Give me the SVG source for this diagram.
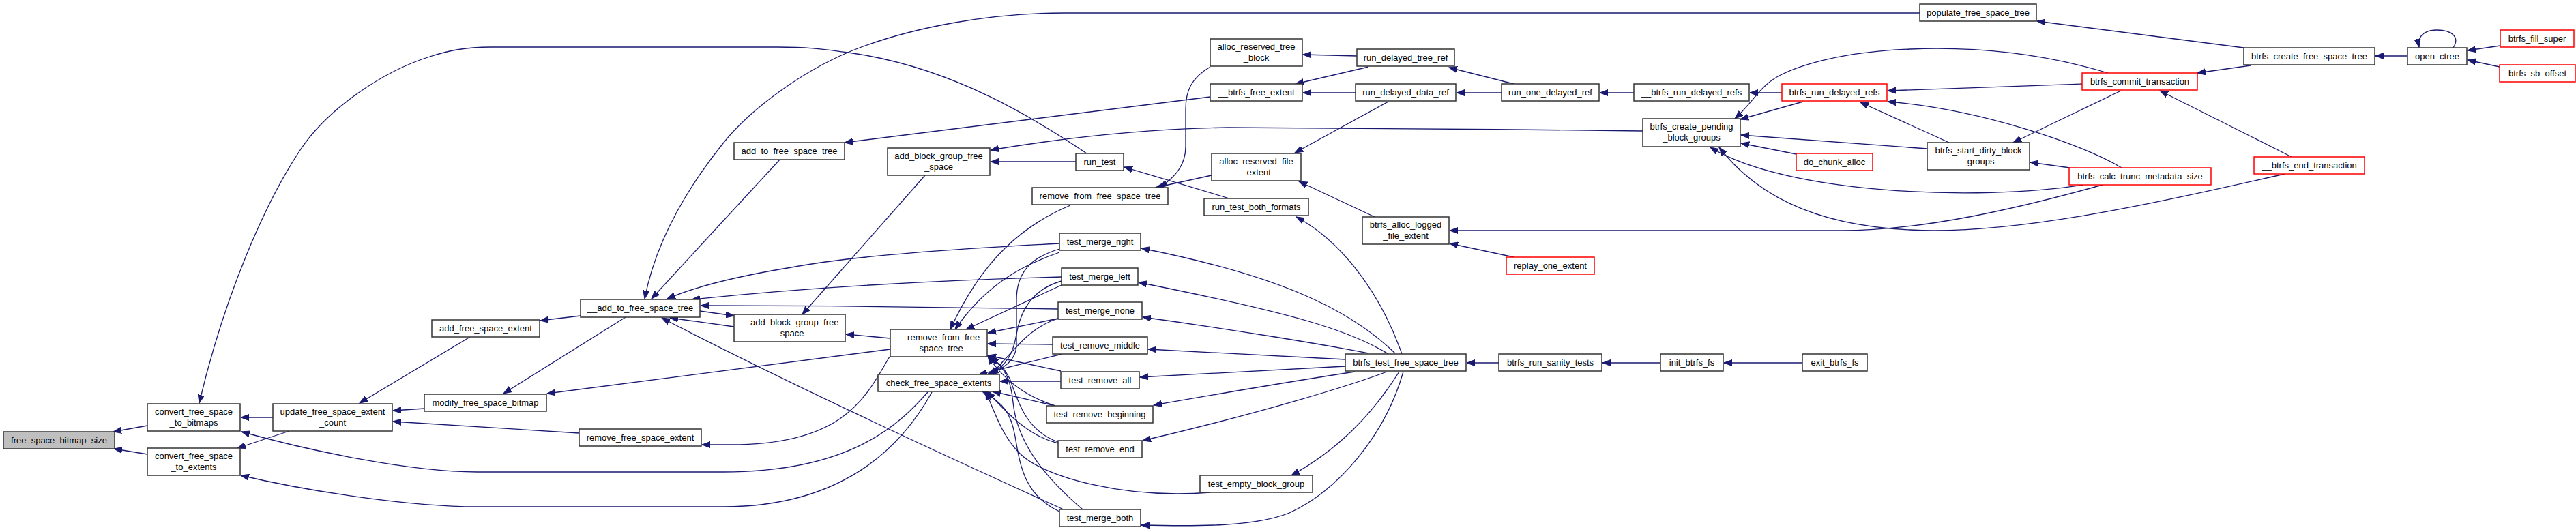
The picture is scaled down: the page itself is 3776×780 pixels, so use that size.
<svg xmlns="http://www.w3.org/2000/svg" width="3776" height="780" viewBox="0 0 3776 780">
<style>
.n rect{fill:#fff;stroke:#333;stroke-width:1.5}
.n.r rect{stroke:#ff0000}
.n.g rect{fill:#bfbfbf}
.n text{font-family:"Liberation Sans",Arial,Helvetica,sans-serif;font-size:13px;text-anchor:middle;fill:#000}
#edges path{fill:none;stroke:#191970;stroke-width:1.3;marker-end:url(#a)}
</style>
<defs>
<marker id="a" markerUnits="userSpaceOnUse" markerWidth="13" markerHeight="10" refX="12" refY="5" orient="auto">
<path d="M0,0.5 L12,5 L0,9.5 Z" fill="#191970" stroke="#191970" stroke-width="1"/>
</marker>
</defs>
<rect width="3776" height="780" fill="#fff"/>
<g id="edges">
<path d="M216,624 L166,633"/>
<path d="M216,666 L167,658"/>
<path d="M400,612 L353,612"/>
<path d="M424,632 L348,657"/>
<path d="M1593,225 C1520,176 1400,100 1250,78 C1200,71 1180,69 1140,69 L720,69 C680,69 655,75 630,83 C560,105 480,160 440,220 C390,295 330,430 292,591"/>
<path d="M2814,19 L1560,19 C1450,19 1340,40 1260,70 C1180,100 1100,160 1060,210 C1000,285 960,360 945,438"/>
<path d="M1143,234 L955,438"/>
<path d="M1553,357 C1400,365 1250,375 1160,392 C1080,405 1020,420 978,438"/>
<path d="M1556,406 C1400,410 1200,420 1014,439"/>
<path d="M1551,453 C1400,450 1200,448 1027,448"/>
<path d="M1076,479 L982,466"/>
<path d="M1026,456 L1076,463"/>
<path d="M1559,747 C1400,675 1150,560 970,466"/>
<path d="M851,463 L792,470"/>
<path d="M689,494 L527,591"/>
<path d="M917,465 L738,577"/>
<path d="M622,599 L576,602"/>
<path d="M849,635 L576,618"/>
<path d="M1305,512 L802,577"/>
<path d="M1304,523 C1270,580 1240,652 1072,652 L1029,652"/>
<path d="M1360,575 C1320,620 1250,692 1060,692 L700,692 C600,692 450,660 354,633"/>
<path d="M1366,575 C1330,640 1250,743 1060,743 L700,743 C600,743 450,720 353,697"/>
<path d="M2055,519 C2020,420 1960,350 1900,318"/>
<path d="M2045,518 C1980,455 1880,405 1673,364"/>
<path d="M2035,519 C1980,485 1900,460 1669,414"/>
<path d="M2006,518 C1940,505 1800,482 1675,465"/>
<path d="M1972,527 C1900,524 1800,518 1683,512"/>
<path d="M1972,537 L1671,553"/>
<path d="M1986,545 C1920,555 1800,575 1691,594"/>
<path d="M2033,545 C1980,565 1850,605 1675,646"/>
<path d="M2051,545 C2010,610 1960,660 1893,697"/>
<path d="M2057,545 C2030,640 1960,720 1890,752 C1840,772 1760,772 1673,770"/>
<path d="M2197,532 L2150,532"/>
<path d="M2434,532 L2349,532"/>
<path d="M2642,532 L2527,532"/>
<path d="M2015,318 L1904,266"/>
<path d="M2219,377 L2125,357"/>
<path d="M3082,271 C2960,305 2820,338 2700,338 L2125,338"/>
<path d="M3349,255 C3150,300 2950,345 2800,337 C2650,330 2570,280 2520,216"/>
<path d="M3054,271 C2900,295 2620,285 2507,216"/>
<path d="M2612,136 L2565,136"/>
<path d="M2643,149 L2551,175"/>
<path d="M3052,123 L2767,133"/>
<path d="M3110,246 C3050,210 2900,160 2767,149"/>
<path d="M2857,209 L2727,150"/>
<path d="M3090,107 C3000,80 2900,68 2800,72 C2700,76 2640,95 2610,110 C2580,125 2570,150 2543,174"/>
<path d="M2825,218 L2552,198"/>
<path d="M2633,226 L2552,210"/>
<path d="M3109,133 L2951,209"/>
<path d="M3034,246 L2976,238"/>
<path d="M3289,70 L2986,31"/>
<path d="M3299,96 L3221,107"/>
<path d="M3359,230 L3166,133"/>
<path d="M3529,82 L3482,82"/>
<path d="M3596,70 C3606,55 3595,44 3572,44 C3552,44 3543,55 3546,69"/>
<path d="M3665,67 L3617,74"/>
<path d="M3664,98 L3617,88"/>
<path d="M1989,82 L1910,80"/>
<path d="M2006,98 L1899,123"/>
<path d="M1987,136 L1910,136"/>
<path d="M2035,149 L1898,224"/>
<path d="M2219,123 L2124,99"/>
<path d="M2201,136 L2135,136"/>
<path d="M2395,136 L2345,136"/>
<path d="M1774,98 C1745,115 1738,135 1738,160 L1738,215 C1738,240 1725,258 1700,275"/>
<path d="M1776,257 L1694,275"/>
<path d="M1774,142 L1238,209"/>
<path d="M1802,291 L1648,245"/>
<path d="M1577,237 L1452,237"/>
<path d="M2408,192 C2200,190 1900,186 1800,187 C1680,189 1560,202 1452,220"/>
<path d="M1356,257 L1176,461"/>
<path d="M1305,496 L1240,490"/>
<path d="M1569,301 C1500,330 1440,380 1393,483"/>
<path d="M1553,370 C1510,385 1450,410 1400,483"/>
<path d="M1556,418 L1416,483"/>
<path d="M1551,467 L1448,488"/>
<path d="M1543,505 L1448,504"/>
<path d="M1555,544 L1448,521"/>
<path d="M1547,595 C1500,580 1470,555 1448,522"/>
<path d="M1551,648 C1500,630 1490,580 1480,555 C1472,540 1465,532 1450,523"/>
<path d="M1587,747 C1520,690 1490,640 1485,590 C1482,560 1475,540 1452,524"/>
<path d="M1553,365 C1510,378 1490,400 1490,440 L1490,505 C1490,525 1475,540 1447,549"/>
<path d="M1556,412 C1510,425 1495,460 1490,490 C1485,520 1475,535 1452,549"/>
<path d="M1551,467 C1510,480 1490,510 1470,530 C1465,537 1460,542 1450,549"/>
<path d="M1557,519 L1435,549"/>
<path d="M1555,559 L1466,559"/>
<path d="M1547,595 L1455,574"/>
<path d="M1551,650 C1510,640 1480,610 1447,574"/>
<path d="M1553,750 C1500,725 1495,680 1488,640 C1482,605 1470,590 1440,574"/>
<path d="M1774,722 C1650,732 1530,700 1495,665 C1470,640 1460,610 1445,574"/>
</g>
<g id="n1" class="n g"><rect x="5" y="633" width="163" height="25"/><text x="86.5" y="650">free_space_bitmap_size</text></g>
<g id="n2" class="n"><rect x="216" y="592" width="136" height="40"/><text x="284" y="608">convert_free_space</text><text x="284" y="623.5">_to_bitmaps</text></g>
<g id="n3" class="n"><rect x="216" y="657" width="136" height="40"/><text x="284" y="673">convert_free_space</text><text x="284" y="688.5">_to_extents</text></g>
<g id="n4" class="n"><rect x="400" y="592" width="175" height="40"/><text x="487.5" y="608">update_free_space_extent</text><text x="487.5" y="623.5">_count</text></g>
<g id="n5" class="n"><rect x="633" y="469" width="158" height="25"/><text x="712" y="486">add_free_space_extent</text></g>
<g id="n6" class="n"><rect x="622" y="578" width="179" height="25"/><text x="711.5" y="595">modify_free_space_bitmap</text></g>
<g id="n7" class="n"><rect x="851" y="439" width="175" height="26"/><text x="938.5" y="456">__add_to_free_space_tree</text></g>
<g id="n8" class="n"><rect x="849" y="629" width="179" height="25"/><text x="938.5" y="646">remove_free_space_extent</text></g>
<g id="n9" class="n"><rect x="1076" y="209" width="162" height="25"/><text x="1157" y="226">add_to_free_space_tree</text></g>
<g id="n10" class="n"><rect x="1076" y="461" width="163" height="40"/><text x="1157.5" y="477">__add_block_group_free</text><text x="1157.5" y="492.5">_space</text></g>
<g id="n11" class="n"><rect x="1301" y="217" width="150" height="40"/><text x="1376" y="233">add_block_group_free</text><text x="1376" y="248.5">_space</text></g>
<g id="n12" class="n"><rect x="1305" y="483" width="142" height="40"/><text x="1376" y="499">__remove_from_free</text><text x="1376" y="514.5">_space_tree</text></g>
<g id="n13" class="n"><rect x="1287" y="549" width="178" height="25"/><text x="1376" y="566">check_free_space_extents</text></g>
<g id="n14" class="n"><rect x="1577" y="225" width="70" height="25"/><text x="1612" y="242">run_test</text></g>
<g id="n15" class="n"><rect x="1513" y="275" width="199" height="25"/><text x="1612.5" y="292">remove_from_free_space_tree</text></g>
<g id="n16" class="n"><rect x="1553" y="342" width="119" height="25"/><text x="1612.5" y="359">test_merge_right</text></g>
<g id="n17" class="n"><rect x="1556" y="393" width="112" height="25"/><text x="1612" y="410">test_merge_left</text></g>
<g id="n18" class="n"><rect x="1551" y="443" width="123" height="25"/><text x="1612.5" y="460">test_merge_none</text></g>
<g id="n19" class="n"><rect x="1543" y="494" width="139" height="25"/><text x="1612.5" y="511">test_remove_middle</text></g>
<g id="n20" class="n"><rect x="1555" y="545" width="115" height="25"/><text x="1612.5" y="562">test_remove_all</text></g>
<g id="n21" class="n"><rect x="1534" y="595" width="156" height="25"/><text x="1612" y="612">test_remove_beginning</text></g>
<g id="n22" class="n"><rect x="1551" y="646" width="123" height="25"/><text x="1612.5" y="663">test_remove_end</text></g>
<g id="n23" class="n"><rect x="1553" y="747" width="119" height="25"/><text x="1612.5" y="764">test_merge_both</text></g>
<g id="n24" class="n"><rect x="1759" y="697" width="165" height="25"/><text x="1841.5" y="714">test_empty_block_group</text></g>
<g id="n25" class="n"><rect x="1774" y="57" width="135" height="40"/><text x="1841.5" y="73">alloc_reserved_tree</text><text x="1841.5" y="88.5">_block</text></g>
<g id="n26" class="n"><rect x="1774" y="123" width="135" height="25"/><text x="1841.5" y="140">__btrfs_free_extent</text></g>
<g id="n27" class="n"><rect x="1776" y="225" width="131" height="40"/><text x="1841.5" y="241">alloc_reserved_file</text><text x="1841.5" y="256.5">_extent</text></g>
<g id="n28" class="n"><rect x="1765" y="291" width="153" height="25"/><text x="1841.5" y="308">run_test_both_formats</text></g>
<g id="n29" class="n"><rect x="1989" y="72" width="143" height="25"/><text x="2060.5" y="89">run_delayed_tree_ref</text></g>
<g id="n30" class="n"><rect x="1987" y="123" width="147" height="25"/><text x="2060.5" y="140">run_delayed_data_ref</text></g>
<g id="n31" class="n"><rect x="1997" y="318" width="127" height="40"/><text x="2060.5" y="334">btrfs_alloc_logged</text><text x="2060.5" y="349.5">_file_extent</text></g>
<g id="n32" class="n r"><rect x="2208" y="377" width="129" height="25"/><text x="2272.5" y="394">replay_one_extent</text></g>
<g id="n33" class="n"><rect x="1972" y="519" width="177" height="25"/><text x="2060.5" y="536">btrfs_test_free_space_tree</text></g>
<g id="n34" class="n"><rect x="2201" y="123" width="143" height="25"/><text x="2272.5" y="140">run_one_delayed_ref</text></g>
<g id="n35" class="n"><rect x="2197" y="519" width="151" height="25"/><text x="2272.5" y="536">btrfs_run_sanity_tests</text></g>
<g id="n36" class="n"><rect x="2395" y="123" width="169" height="25"/><text x="2479.5" y="140">__btrfs_run_delayed_refs</text></g>
<g id="n37" class="n"><rect x="2408" y="174" width="143" height="41"/><text x="2479.5" y="190">btrfs_create_pending</text><text x="2479.5" y="205.5">_block_groups</text></g>
<g id="n38" class="n"><rect x="2434" y="519" width="92" height="25"/><text x="2480" y="536">init_btrfs_fs</text></g>
<g id="n39" class="n"><rect x="2642" y="519" width="95" height="25"/><text x="2689.5" y="536">exit_btrfs_fs</text></g>
<g id="n40" class="n r"><rect x="2612" y="123" width="154" height="25"/><text x="2689" y="140">btrfs_run_delayed_refs</text></g>
<g id="n41" class="n r"><rect x="2633" y="225" width="112" height="25"/><text x="2689" y="242">do_chunk_alloc</text></g>
<g id="n42" class="n"><rect x="2825" y="209" width="150" height="40"/><text x="2900" y="225">btrfs_start_dirty_block</text><text x="2900" y="240.5">_groups</text></g>
<g id="n43" class="n"><rect x="2814" y="6" width="171" height="25"/><text x="2899.5" y="23">populate_free_space_tree</text></g>
<g id="n44" class="n r"><rect x="3052" y="107" width="169" height="25"/><text x="3136.5" y="124">btrfs_commit_transaction</text></g>
<g id="n45" class="n r"><rect x="3033" y="246" width="208" height="25"/><text x="3137" y="263">btrfs_calc_trunc_metadata_size</text></g>
<g id="n46" class="n"><rect x="3289" y="70" width="192" height="25"/><text x="3385" y="87">btrfs_create_free_space_tree</text></g>
<g id="n47" class="n r"><rect x="3304" y="230" width="162" height="25"/><text x="3385" y="247">__btrfs_end_transaction</text></g>
<g id="n48" class="n"><rect x="3529" y="70" width="87" height="25"/><text x="3572.5" y="87">open_ctree</text></g>
<g id="n49" class="n r"><rect x="3665" y="44" width="108" height="25"/><text x="3719" y="61">btrfs_fill_super</text></g>
<g id="n50" class="n r"><rect x="3664" y="95" width="111" height="25"/><text x="3719.5" y="112">btrfs_sb_offset</text></g>
</svg>
